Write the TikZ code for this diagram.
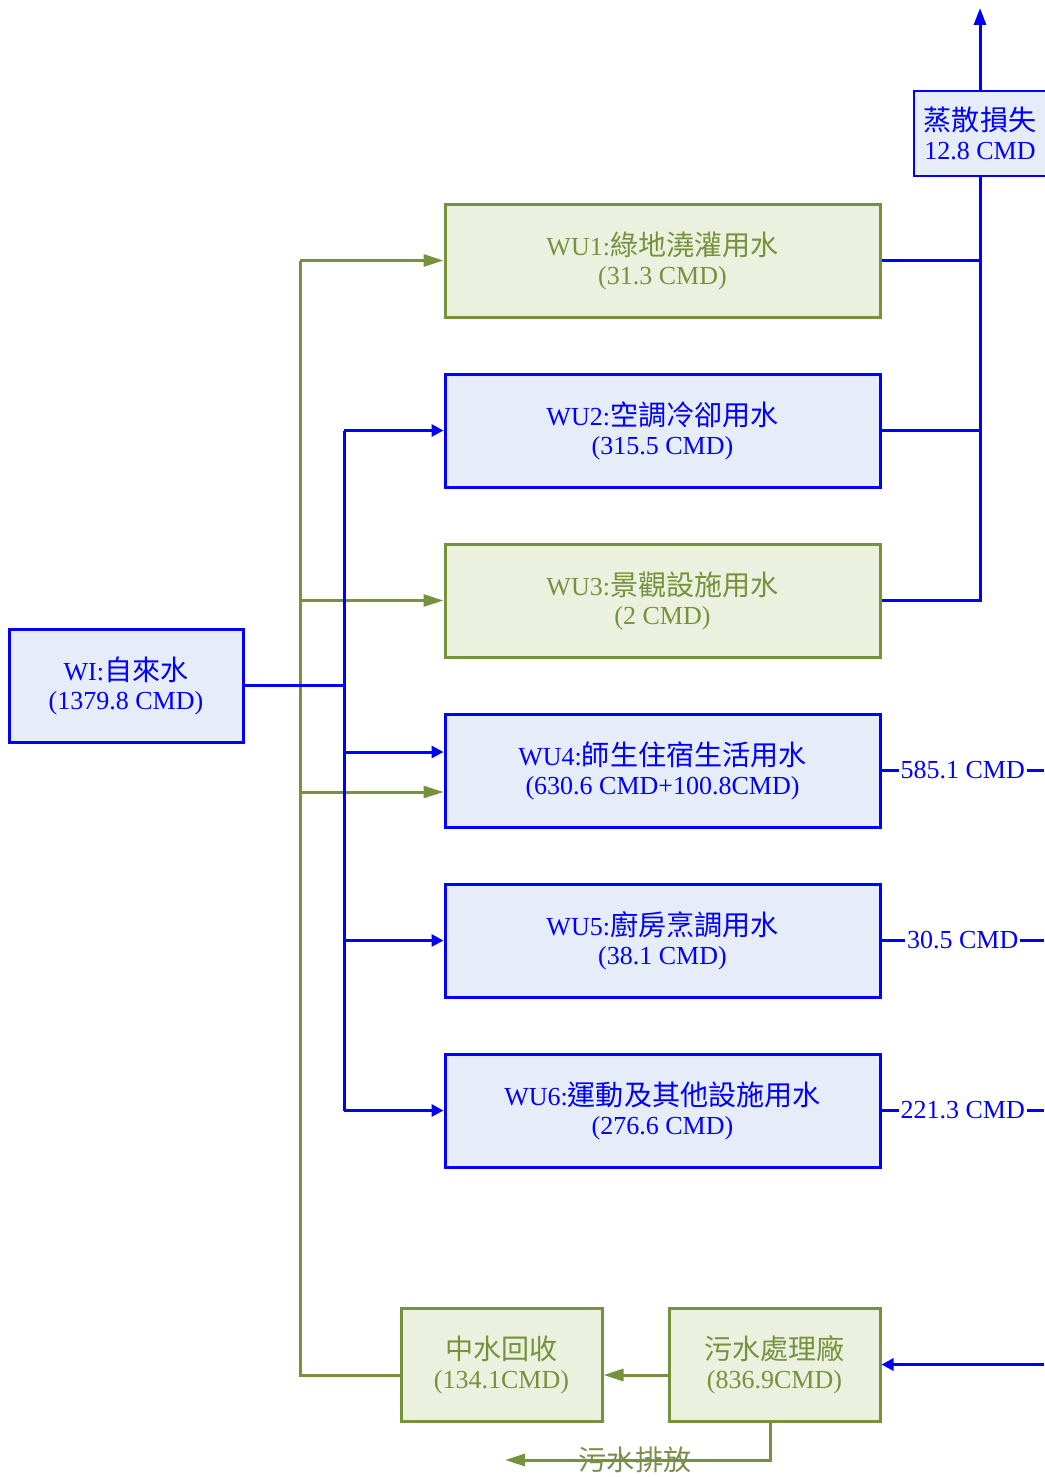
\documentclass[tikz,border=0pt]{standalone}
\usepackage{fontspec}
\setmainfont{Liberation Serif}
\newfontfamily\zhfont[Scale=1.08]{Noto Sans CJK TC}
\newcommand{\zh}[1]{{\zhfont #1}}
\usetikzlibrary{arrows.meta}
\definecolor{olivegrn}{RGB}{118,146,60}
\definecolor{gfill}{RGB}{235,241,222}
\definecolor{bfill}{RGB}{230,236,248}
\tikzset{
  gbox/.style={draw=olivegrn,fill=gfill,text=olivegrn,line width=1.5pt,align=center,inner sep=0pt},
  bbox/.style={draw=blue,fill=bfill,text=blue,line width=1.5pt,align=center,inner sep=0pt},
  wub/.style={minimum width=217.5pt,minimum height=56.5pt},
  gline/.style={draw=olivegrn,line width=1.5pt},
  bline/.style={draw=blue,line width=1.5pt},
  garr/.style={gline,-{Triangle[length=10pt,width=6pt]}},
  barr/.style={bline,-{Triangle[length=6pt,width=6pt]}},
  flab/.style={fill=white,text=blue,inner sep=1pt},
  every node/.style={font=\fontsize{13}{14.5}\selectfont}
}
\begin{document}
\begin{tikzpicture}[x=0.5pt,y=-0.5pt]
  \useasboundingbox (0,0) rectangle (1044,1477);
  \node[gbox,wub] (wu1) at (662.5,260.5) {WU1:\zh{綠地澆灌用水}\\(31.3 CMD)};
  \node[bbox,wub] (wu2) at (662.5,430.5) {WU2:\zh{空調冷卻用水}\\(315.5 CMD)};
  \node[gbox,wub] (wu3) at (662.5,600.5) {WU3:\zh{景觀設施用水}\\(2 CMD)};
  \node[bbox,wub] (wu4) at (662.5,770.5) {WU4:\zh{師生住宿生活用水}\\(630.6 CMD+100.8CMD)};
  \node[bbox,wub] (wu5) at (662.5,940.5) {WU5:\zh{廚房烹調用水}\\(38.1 CMD)};
  \node[bbox,wub] (wu6) at (662.5,1110.5) {WU6:\zh{運動及其他設施用水}\\(276.6 CMD)};
  \node[bbox,minimum width=117pt,minimum height=56.5pt] (wi) at (126,685.5) {WI:\zh{自來水}\\(1379.8 CMD)};
  \node[bbox,line width=0.75pt,minimum width=66pt,minimum height=42.5pt] (loss) at (980,133.5) {\zh{蒸散損失}\\12.8 CMD};
  \node[gbox,minimum width=100.5pt,minimum height=56.5pt] (rec) at (501.5,1364.5) {\zh{中水回收}\\(134.1CMD)};
  \node[gbox,minimum width=105.5pt,minimum height=56.5pt] (plant) at (774.5,1364.5) {\zh{污水處理廠}\\(836.9CMD)};
  \coordinate (gt) at (300,0); \coordinate (bt) at (344,0); \coordinate (ev) at (980,0); \coordinate (rx) at (1044,0);
  \coordinate (top) at (980,8); \coordinate (dis) at (505,1460);
  \coordinate (w4g) at ([yshift=-10.75pt]wu4.west); \coordinate (w4b) at ([yshift=9.25pt]wu4.west);
  \coordinate (rg) at ([yshift=-5.25pt]rec.west); \coordinate (pg) at ([yshift=-5.25pt]plant.west);
  \draw[gline] (rg) -| (gt |- wu1);
  \draw[garr] (gt |- wu1) -- (wu1.west); \draw[garr] (gt |- wu3) -- (wu3.west); \draw[garr] (gt |- w4g) -- (w4g);
  \draw[bline] (wi.east) -- (bt |- wi); \draw[bline] (bt |- wu2) -- (bt |- wu6);
  \draw[barr] (bt |- wu2) -- (wu2.west); \draw[barr] (bt |- w4b) -- (w4b); \draw[barr] (bt |- wu5) -- (wu5.west); \draw[barr] (bt |- wu6) -- (wu6.west);
  \draw[bline] (wu1.east) -- (ev |- wu1); \draw[bline] (wu2.east) -- (ev |- wu2); \draw[bline] (wu3.east) -| (loss.south);
  \draw[bline,-{Triangle[length=8.5pt,width=6pt]}] (loss.north) -- (top);
  \draw[bline] (wu4.east) -- node[flab] (o4) {585.1 CMD} (rx |- wu4);
  \draw[bline] (wu5.east) -- node[flab] (o5) {30.5 CMD} (rx |- wu5);
  \draw[bline] (wu6.east) -- node[flab] (o6) {221.3 CMD} (rx |- wu6);
  \draw[barr] (rx |- plant) -- (plant.east);
  \draw[garr] (pg) -- (pg -| rec.east);
  \draw[garr] ([xshift=-2.25pt]plant.south) |- (dis);
  \node[text=olivegrn!80!gray] (dlab) at (635,1460) {\zh{污水排放}};
\end{tikzpicture}
\end{document}
